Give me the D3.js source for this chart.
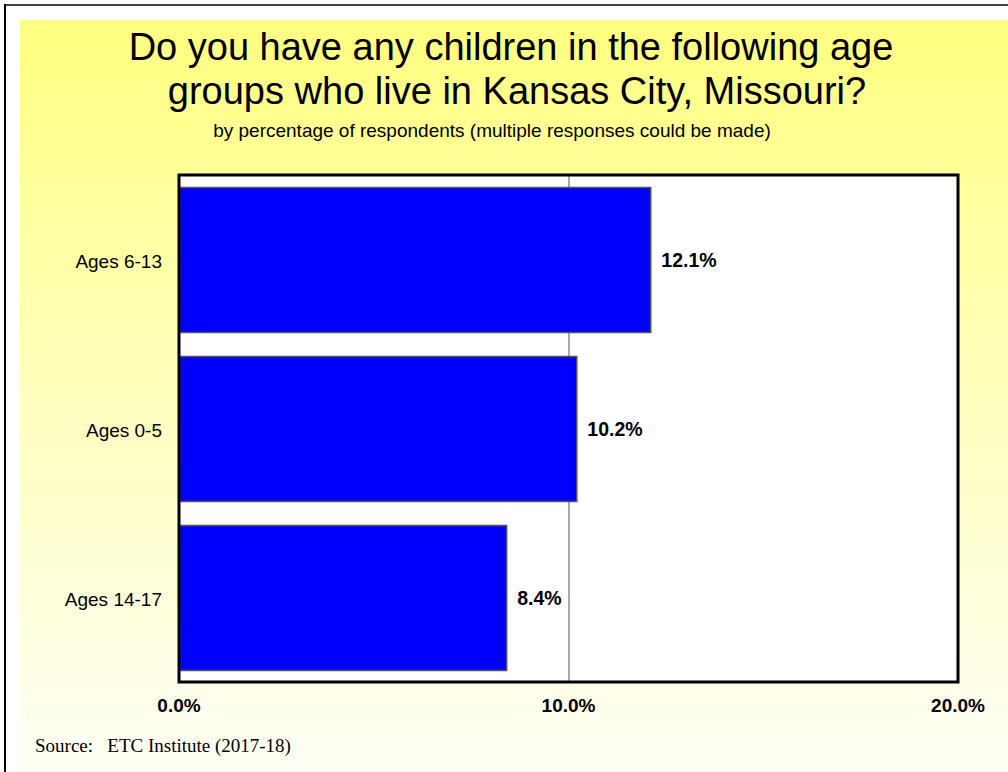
<!DOCTYPE html>
<html>
<head>
<meta charset="utf-8">
<script src="https://cdn.jsdelivr.net/npm/d3@7"></script>
<style>
  html, body { margin: 0; padding: 0; background: #fff; }
  svg { display: block; }
</style>
</head>
<body>
<svg id="chart" width="1008" height="772"></svg>
<script>
// Survey answers, by percentage of respondents
const categories = ["Ages 6-13", "Ages 0-5", "Ages 14-17"];
const values = [12.1, 10.2, 8.4];
const tickValues = [0, 10, 20];
const tickLabels = ["0.0%", "10.0%", "20.0%"];

const svg = d3.select("#chart");
const W = 1008, H = 772;
const SANS = "Liberation Sans, Arial, sans-serif";

// background gradient (yellow fading to near white)
const defs = svg.append("defs");
const grad = defs.append("linearGradient")
  .attr("id", "bg").attr("x1", 0).attr("y1", 0).attr("x2", 0).attr("y2", 1);
grad.append("stop").attr("offset", "0%").attr("stop-color", "#ffff80");
grad.append("stop").attr("offset", "45%").attr("stop-color", "#ffffb8");
grad.append("stop").attr("offset", "100%").attr("stop-color", "#fffff6");

svg.append("rect").attr("x", 20).attr("y", 20)
  .attr("width", W - 20).attr("height", H - 20)
  .attr("fill", "url(#bg)");

// page frame
svg.append("line").attr("x1", 5).attr("x2", W).attr("y1", 5).attr("y2", 5)
  .attr("stroke", "#444").attr("stroke-width", 2);
svg.append("line").attr("x1", 5).attr("x2", 5).attr("y1", 4).attr("y2", H)
  .attr("stroke", "#000").attr("stroke-width", 2);

// titles
const title = svg.append("text")
  .attr("text-anchor", "middle")
  .attr("font-family", SANS)
  .attr("font-size", 38).attr("fill", "#000");
title.append("tspan").attr("x", 511).attr("y", 60)
  .text("Do you have any children in the following age");
title.append("tspan").attr("x", 517).attr("y", 104)
  .text("groups who live in Kansas City, Missouri?");

svg.append("text")
  .attr("x", 492).attr("y", 137)
  .attr("text-anchor", "middle")
  .attr("font-family", SANS)
  .attr("font-size", 19).attr("fill", "#000")
  .text("by percentage of respondents (multiple responses could be made)");

// plot area
const plot = { left: 179, right: 958, top: 175, bottom: 682 };

const x = d3.scaleLinear().domain([0, 20]).range([plot.left, plot.right]);
const y = d3.scaleBand().domain(categories)
  .range([plot.top, plot.bottom])
  .paddingInner(0.142).paddingOuter(0.071);

svg.append("rect")
  .attr("x", plot.left).attr("y", plot.top)
  .attr("width", plot.right - plot.left).attr("height", plot.bottom - plot.top)
  .attr("fill", "#fff");

// vertical gridlines
svg.append("g").selectAll("line")
  .data(tickValues.filter(v => v > 0 && v < 20))
  .join("line")
  .attr("x1", d => x(d) + 0.5).attr("x2", d => x(d) + 0.5)
  .attr("y1", plot.top).attr("y2", plot.bottom)
  .attr("stroke", "#555").attr("stroke-width", 1);

// bars
svg.append("g").selectAll("rect")
  .data(categories)
  .join("rect")
  .attr("x", x(0) + 0.5)
  .attr("y", (d) => y(d) + 0.5)
  .attr("width", (d, i) => x(values[i]) - x(0))
  .attr("height", y.bandwidth())
  .attr("fill", "#0000ff")
  .attr("stroke", "#555")
  .attr("stroke-width", 1.5);

// plot frame
svg.append("rect")
  .attr("x", plot.left).attr("y", plot.top)
  .attr("width", plot.right - plot.left).attr("height", plot.bottom - plot.top)
  .attr("fill", "none").attr("stroke", "#000").attr("stroke-width", 3);

// value labels
svg.append("g").selectAll("text")
  .data(categories)
  .join("text")
  .attr("x", (d, i) => x(values[i]) + 11)
  .attr("y", d => y(d) + y.bandwidth() / 2 + 7)
  .attr("font-family", SANS)
  .attr("font-size", 19.5).attr("font-weight", "bold").attr("fill", "#000")
  .text((d, i) => values[i].toFixed(1) + "%");

// category axis labels
svg.append("g").selectAll("text")
  .data(categories)
  .join("text")
  .attr("x", 162)
  .attr("y", d => y(d) + y.bandwidth() / 2 + 8)
  .attr("text-anchor", "end")
  .attr("font-family", SANS)
  .attr("font-size", 19).attr("fill", "#000")
  .text(d => d);

// value axis tick labels
svg.append("g").selectAll("text")
  .data(tickValues)
  .join("text")
  .attr("x", d => x(d))
  .attr("y", 712)
  .attr("text-anchor", "middle")
  .attr("font-family", SANS)
  .attr("font-size", 19).attr("font-weight", "bold").attr("fill", "#000")
  .text((d, i) => tickLabels[i]);

// source note
svg.append("text")
  .attr("x", 35).attr("y", 752)
  .attr("font-family", "Liberation Serif, Times New Roman, serif")
  .attr("font-size", 19).attr("fill", "#000")
  .attr("xml:space", "preserve")
  .style("white-space", "pre")
  .text("Source:   ETC Institute (2017-18)");
</script>
</body>
</html>
